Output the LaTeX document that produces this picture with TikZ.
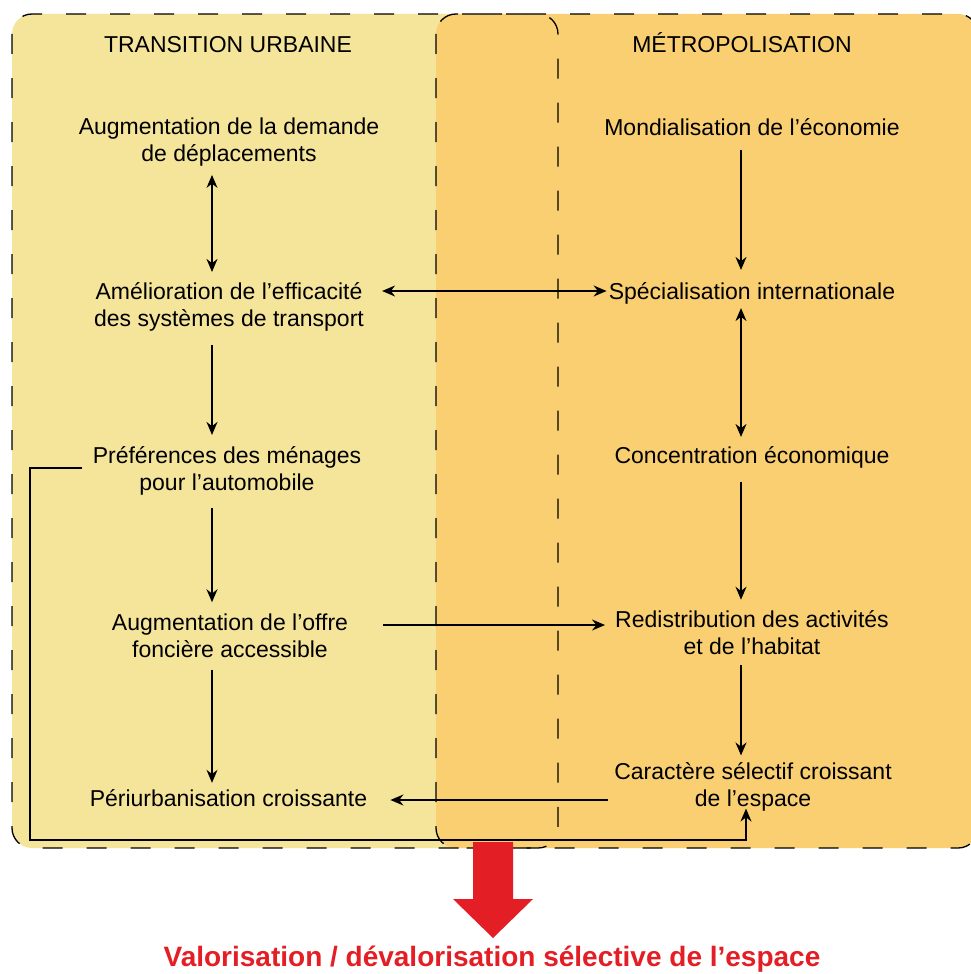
\documentclass[tikz,border=0pt]{standalone}
\usepackage{fontspec}
\setmainfont{Liberation Sans}
\usetikzlibrary{
  arrows.meta
  , calc
}
\definecolor{urbyellow}{RGB}{245,229,155}
\definecolor{metorange}{RGB}{249,207,113}
\definecolor{valred}{RGB}{227,30,36}

\begin{document}
\begin{tikzpicture}[x=1pt, y=-1pt,
    every node/.style={font=\fontsize{23}{27}\selectfont, align=center, inner sep=0pt},
    link/.style={-{Stealth[length=13pt,width=11pt]}, line width=1.4pt},
    dlink/.style={{Stealth[length=13pt,width=11pt]}-{Stealth[length=13pt,width=11pt]}, line width=1.4pt},
    panel/.style={dash pattern=on 20pt off 24pt, line width=1.3pt, rounded corners=20pt},
  ]
  \useasboundingbox (0,0) rectangle (971,974);

  \def\UrbColor {urbyellow};
  \def\MetColor {metorange};

  % the two overlapping panels
  \fill[\UrbColor, rounded corners=20pt] (12,14) rectangle (558,848);
  \fill[\MetColor, rounded corners=20pt] (436,14) rectangle (978,848);
  \draw[panel] (12,14) rectangle (558,848);
  \draw[panel] (436,14) rectangle (978,848);

  \node (UrbTtl) at (228,45) {TRANSITION URBAINE};
  \node (MetTtl) at (742,43) {MÉTROPOLISATION};

  % transition urbaine
  \node (Dmnd) at (229,142.5) {Augmentation de la demande\\de déplacements};
  \node (Effc) at (229,306.5) {Amélioration de l’efficacité\\des systèmes de transport};
  \node (Pref) at (227,470.5) {Préférences des ménages\\pour l’automobile};
  \node (Offr) at (230,635.4) {Augmentation de l’offre\\foncière accessible};
  \node (Peri) at (228.5,798.6) {Périurbanisation croissante};

  % metropolisation
  \node (Mond) at (752,126.7) {Mondialisation de l’économie};
  \node (Spec) at (752,293) {Spécialisation internationale};
  \node (Conc) at (752,457) {Concentration économique};
  \node (Rdst) at (752,633) {Redistribution des activités\\et de l’habitat};
  \node (Slct) at (753,787) {Caractère sélectif croissant\\de l’espace};

  % the arrows of each column run on one vertical
  \coordinate (ColL) at (212,0);
  \coordinate (ColR) at (741,0);

  \draw[dlink, shorten <=8pt, shorten >=10pt]
  (Dmnd.south -| ColL) -- (Effc.north -| ColL);
  \draw[link, shorten <=14pt, shorten >=11pt]
  (Effc.south -| ColL) -- (Pref.north -| ColL);
  \draw[link, shorten <=13pt, shorten >=11pt]
  (Pref.south -| ColL) -- (Offr.north -| ColL);
  \draw[link, shorten <=12pt, shorten >=7pt]
  (Offr.south -| ColL) -- (Peri.north -| ColL);

  \draw[link, shorten <=15pt, shorten >=12pt]
  (Mond.south -| ColR) -- (Spec.north -| ColR);
  \draw[dlink, shorten <=4pt, shorten >=9pt]
  (Spec.south -| ColR) -- (Conc.north -| ColR);
  \draw[link, shorten <=14pt, shorten >=11pt]
  (Conc.south -| ColR) -- (Rdst.north -| ColR);
  \draw[link, shorten <=10pt, shorten >=7pt]
  (Rdst.south -| ColR) -- (Slct.north -| ColR);

  % links across the panels
  \coordinate (EffcR) at ([yshift=15.5pt]Effc.east);
  \coordinate (OffrR) at ([yshift=10.4pt]Offr.east);
  \coordinate (SlctL) at ([yshift=-13pt]Slct.west);
  \draw[dlink, shorten <=18pt, shorten >=2pt] (EffcR) -- (EffcR -| Spec.west);
  \draw[link, shorten <=35pt, shorten >=10pt] (OffrR) -- (OffrR -| Rdst.west);
  \draw[link, shorten <=6pt, shorten >=23pt] (SlctL) -- (SlctL -| Peri.east);

  \coordinate (LoopL) at (30,840);
  \coordinate (LoopR) at (746,840);
  \draw[link, shorten <=11pt, shorten >=-3pt]
  ([yshift=2.5pt]Pref.west) -| (LoopL) |- (LoopR) -- ([xshift=-7pt]Slct.south);

  % outcome
  \node[anchor=base, text=valred, font=\fontsize{28}{32}\selectfont\bfseries]
  (Valo) at (492,966) {Valorisation / dévalorisation sélective de l’espace};
  \fill[valred] (473,842) -- (513,842) -- (513,899) -- (533,899)
  -- (493,938) -- (453,899) -- (473,899) -- cycle;

\end{tikzpicture}
\end{document}
